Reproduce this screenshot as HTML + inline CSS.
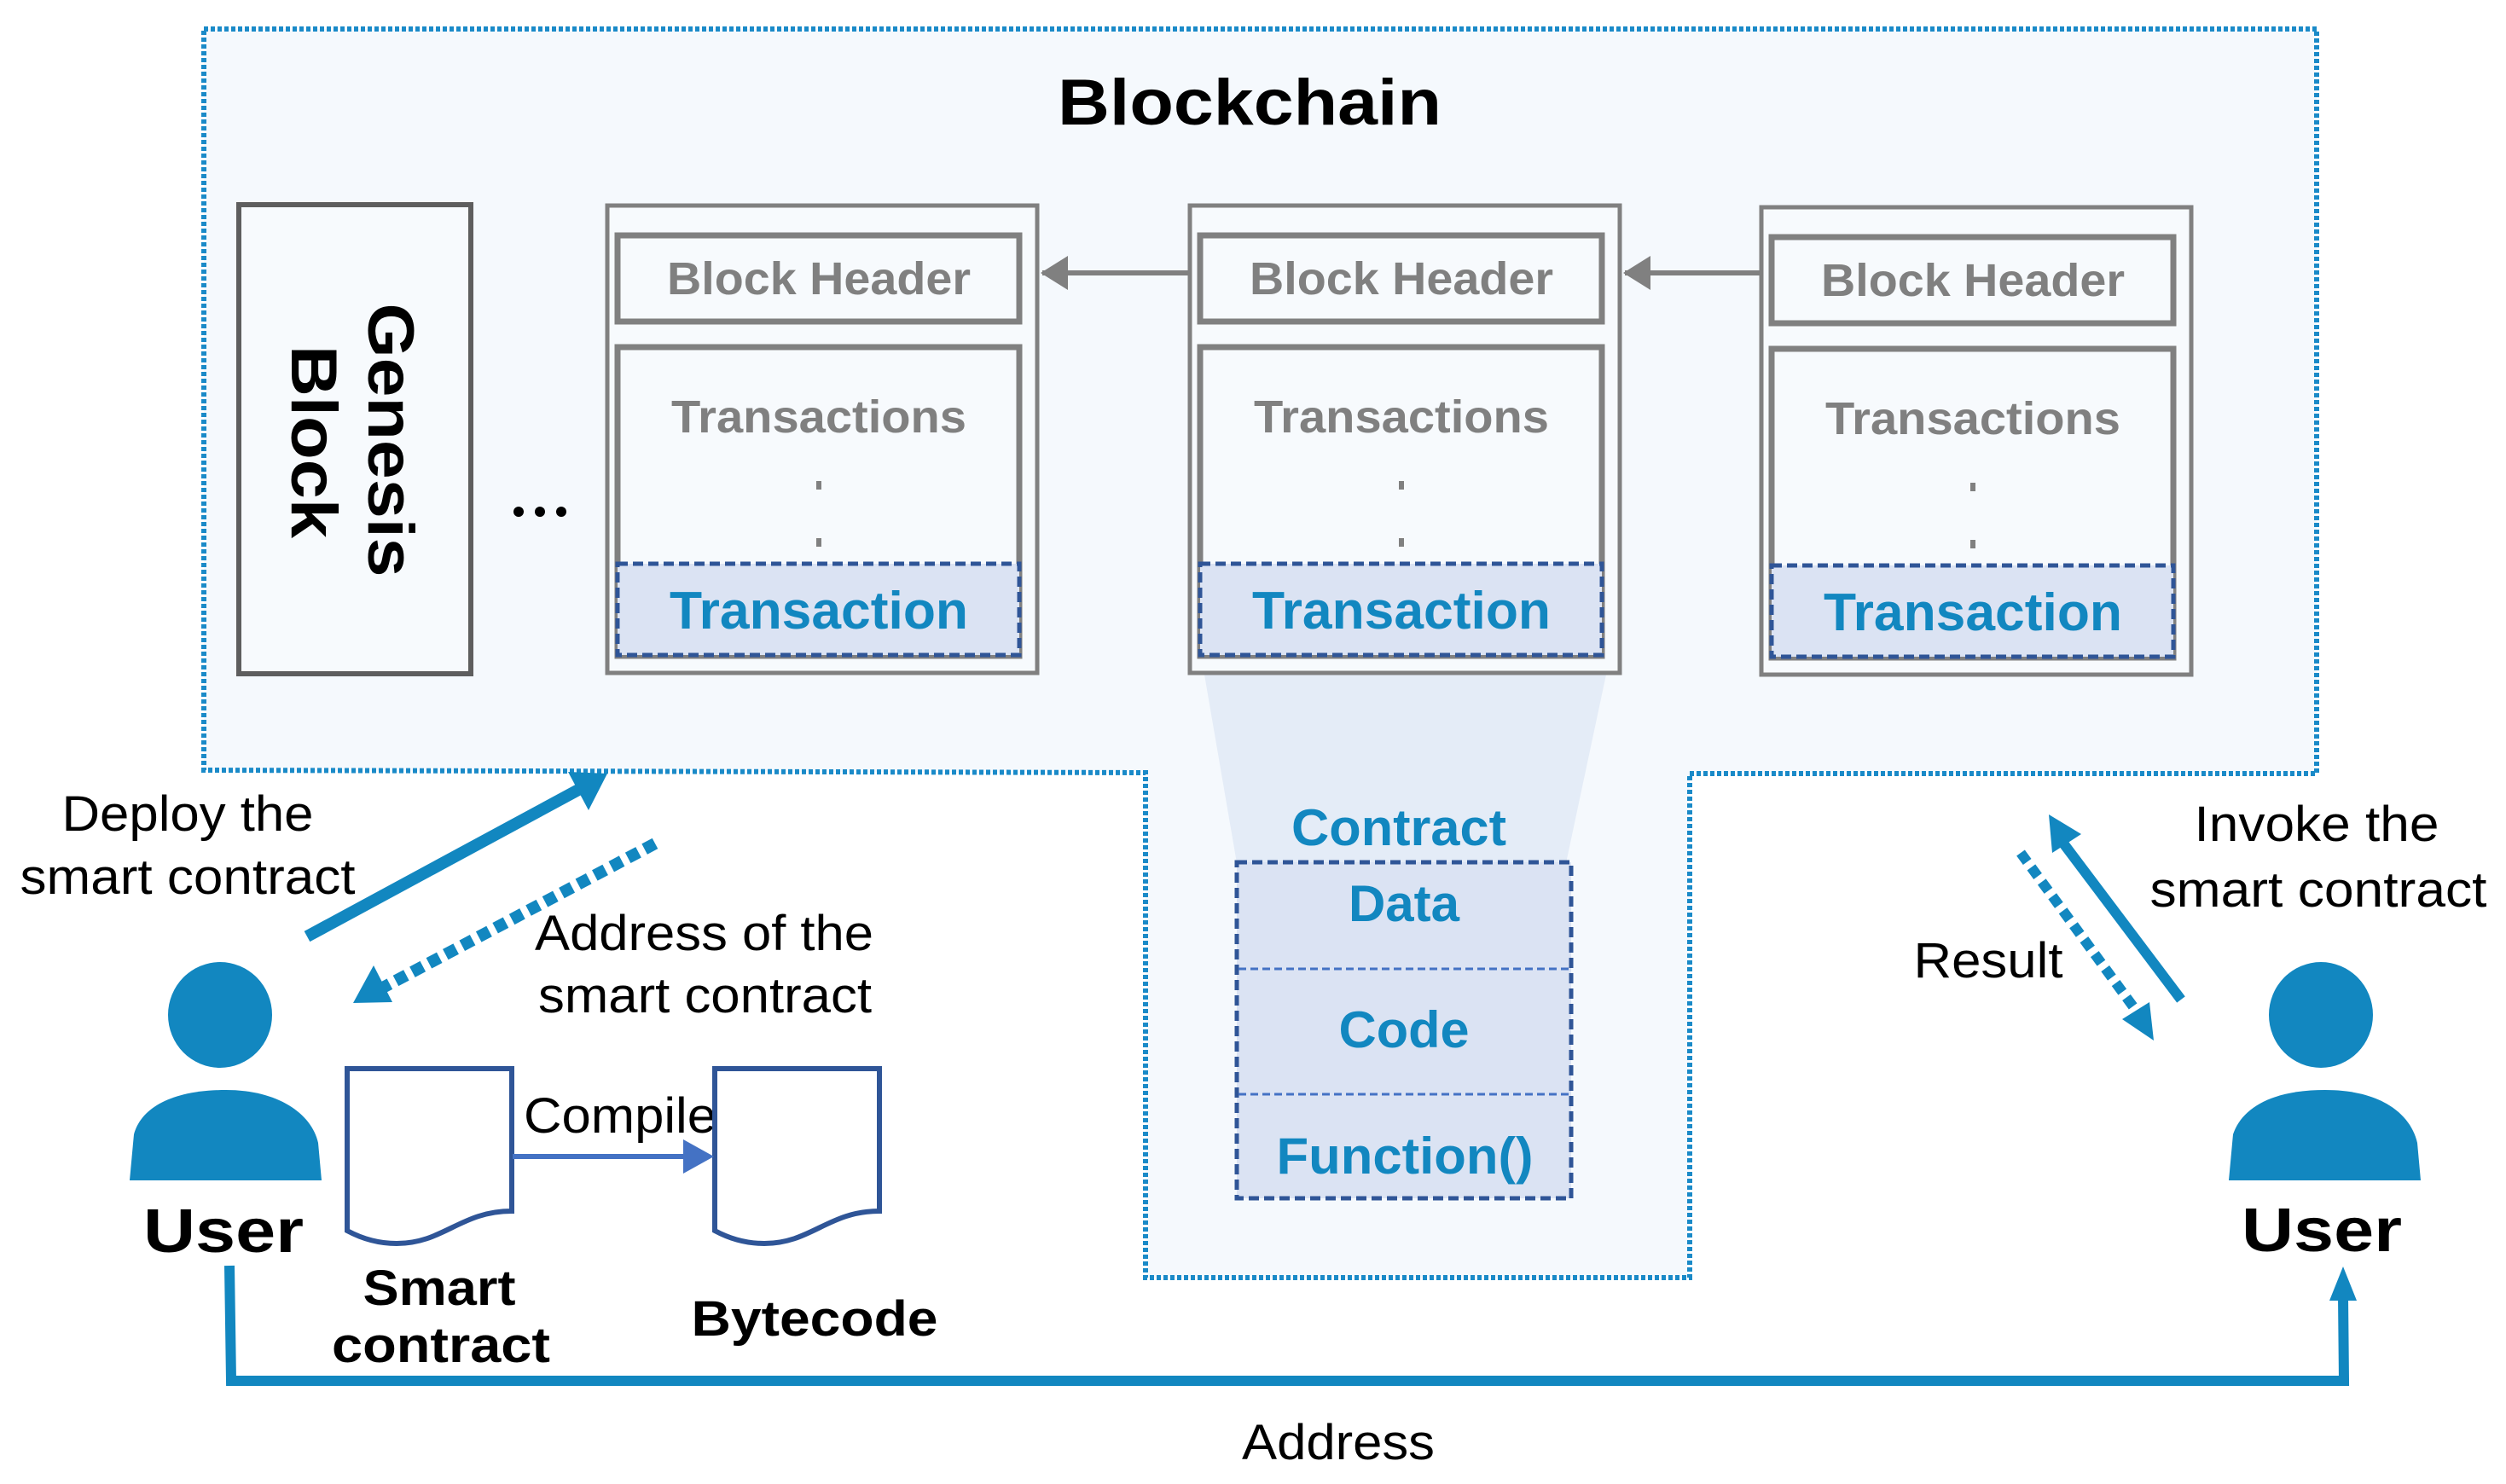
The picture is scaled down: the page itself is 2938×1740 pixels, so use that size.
<!DOCTYPE html>
<html><head><meta charset="utf-8"><style>html,body{margin:0;padding:0;background:#fff}svg{display:block}</style></head>
<body>
<svg width="2938" height="1740" viewBox="0 0 2938 1740" xmlns="http://www.w3.org/2000/svg" font-family="'Liberation Sans', Arial, sans-serif">
<!-- blockchain region -->
<path d="M239,34 L2716,34 L2716,907 L1981,907 L1981,1498 L1343,1498 L1343,906 L239,903 Z" fill="#f5f9fd" stroke="#1a8ac8" stroke-width="6" stroke-dasharray="5,3"/>
<!-- trapezoid -->
<path d="M1412,791 L1883,791 L1836,1012 L1450,1012 Z" fill="#e4ecf7"/>
<text x="1465" y="146" font-size="76" font-weight="bold" text-anchor="middle" textLength="450" lengthAdjust="spacingAndGlyphs">Blockchain</text>
<!-- genesis -->
<rect x="280" y="240" width="272" height="550" fill="#f7fafd" stroke="#5e5e5e" stroke-width="6"/>
<text transform="translate(432,516) rotate(90)" font-size="76" font-weight="bold" text-anchor="middle" textLength="321" lengthAdjust="spacingAndGlyphs">Genesis</text>
<text transform="translate(342,518) rotate(90)" font-size="76" font-weight="bold" text-anchor="middle" textLength="226" lengthAdjust="spacingAndGlyphs">Block</text>
<circle cx="608" cy="600" r="6"/><circle cx="633" cy="600" r="6"/><circle cx="658" cy="600" r="6"/>
<!-- blocks -->
<g id="b1">
<rect x="712" y="241" width="504" height="548" fill="#f7fafd" stroke="#808080" stroke-width="5"/>
<rect x="724" y="276" width="471" height="101" fill="#f7fafd" stroke="#808080" stroke-width="7"/>
<rect x="724" y="407" width="471" height="362" fill="#f7fafd" stroke="#808080" stroke-width="7"/>
<rect x="724" y="661" width="471" height="107" fill="#dbe3f3" stroke="#2f5597" stroke-width="5" stroke-dasharray="12,6"/>
<text x="960" y="345" font-size="54" font-weight="bold" fill="#808080" text-anchor="middle" textLength="356" lengthAdjust="spacingAndGlyphs">Block Header</text>
<text x="960" y="507" font-size="54" font-weight="bold" fill="#808080" text-anchor="middle" textLength="346" lengthAdjust="spacingAndGlyphs">Transactions</text>
<rect x="957" y="564" width="6" height="10" fill="#808080"/><rect x="957" y="631" width="6" height="10" fill="#808080"/>
<text x="960" y="737" font-size="62" font-weight="bold" fill="#1287c0" text-anchor="middle" textLength="350" lengthAdjust="spacingAndGlyphs">Transaction</text>
</g>
<use href="#b1" x="683" y="0"/>
<use href="#b1" x="1353" y="2"/>
<line x1="1393" y1="320" x2="1222" y2="320" stroke="#808080" stroke-width="6"/>
<path d="M1220,320 L1252,300 L1252,340 Z" fill="#808080"/>
<line x1="2066" y1="320" x2="1905" y2="320" stroke="#808080" stroke-width="6"/>
<path d="M1903,320 L1935,300 L1935,340 Z" fill="#808080"/>
<!-- contract -->
<text x="1640" y="991" font-size="60" font-weight="bold" fill="#1287c0" text-anchor="middle" textLength="252" lengthAdjust="spacingAndGlyphs">Contract</text>
<rect x="1450" y="1011" width="392" height="394" fill="#dbe3f3" stroke="#2f5597" stroke-width="5" stroke-dasharray="12,6"/>
<line x1="1452" y1="1136" x2="1840" y2="1136" stroke="#4472c4" stroke-width="3" stroke-dasharray="9,5"/>
<line x1="1452" y1="1283" x2="1840" y2="1283" stroke="#4472c4" stroke-width="3" stroke-dasharray="9,5"/>
<text x="1646" y="1080" font-size="60" font-weight="bold" fill="#1287c0" text-anchor="middle" textLength="130" lengthAdjust="spacingAndGlyphs">Data</text>
<text x="1646" y="1228" font-size="60" font-weight="bold" fill="#1287c0" text-anchor="middle" textLength="153" lengthAdjust="spacingAndGlyphs">Code</text>
<text x="1647" y="1376" font-size="60" font-weight="bold" fill="#1287c0" text-anchor="middle" textLength="301" lengthAdjust="spacingAndGlyphs">Function()</text>
<!-- users -->
<g fill="#1287c0">
<ellipse cx="258" cy="1190" rx="61" ry="62"/>
<path d="M152,1384 L157,1330 C165,1300 200,1278 265,1278 C325,1278 365,1305 373,1340 L377,1384 Z"/>
<ellipse cx="2721" cy="1190" rx="61" ry="62"/>
<path d="M2613,1384 L2618,1330 C2628,1300 2662,1278 2726,1278 C2790,1278 2826,1305 2834,1340 L2838,1384 Z"/>
</g>
<text x="262" y="1468" font-size="72" font-weight="bold" text-anchor="middle" textLength="188" lengthAdjust="spacingAndGlyphs">User</text>
<text x="2722" y="1467" font-size="72" font-weight="bold" text-anchor="middle" textLength="188" lengthAdjust="spacingAndGlyphs">User</text>
<!-- address line -->
<path d="M269,1484 L271,1619 L2748,1619 L2747,1520" fill="none" stroke="#1287c0" stroke-width="12"/>
<path d="M2747,1485 L2731,1525 L2763,1525 Z" fill="#1287c0"/>
<text x="1569" y="1711" font-size="58" text-anchor="middle" textLength="226" lengthAdjust="spacingAndGlyphs">Address</text>
<!-- deploy arrow -->
<line x1="360" y1="1098" x2="680" y2="925" stroke="#1287c0" stroke-width="14"/>
<path d="M712,907 L666,905 L690,950 Z" fill="#1287c0"/>
<line x1="768" y1="989" x2="445" y2="1160" stroke="#1287c0" stroke-width="14" stroke-dasharray="14,8"/>
<path d="M414,1176 L438,1132 L460,1175 Z" fill="#1287c0"/>
<g font-size="58">
<text x="220" y="974" text-anchor="middle" textLength="295" lengthAdjust="spacingAndGlyphs">Deploy the</text>
<text x="220" y="1048" text-anchor="middle" textLength="393" lengthAdjust="spacingAndGlyphs">smart contract</text>
<text x="627" y="1114" textLength="397" lengthAdjust="spacingAndGlyphs">Address of the</text>
<text x="631" y="1187" textLength="391" lengthAdjust="spacingAndGlyphs">smart contract</text>
<text x="614" y="1328" textLength="226" lengthAdjust="spacingAndGlyphs">Compile</text>
<text x="2716" y="986" text-anchor="middle" textLength="287" lengthAdjust="spacingAndGlyphs">Invoke the</text>
<text x="2718" y="1063" text-anchor="middle" textLength="395" lengthAdjust="spacingAndGlyphs">smart contract</text>
<text x="2331" y="1146" text-anchor="middle" textLength="175" lengthAdjust="spacingAndGlyphs">Result</text>
</g>
<!-- docs -->
<g fill="#fff" stroke="#2f5597" stroke-width="6">
<path d="M407,1253 L600,1253 L600,1420 C540,1420 520,1458 465,1458 C440,1458 420,1450 407,1443 Z"/>
<path d="M838,1253 L1031,1253 L1031,1420 C971,1420 951,1458 896,1458 C871,1458 851,1450 838,1443 Z"/>
</g>
<line x1="601" y1="1356" x2="808" y2="1356" stroke="#4472c4" stroke-width="6"/>
<path d="M837,1356 L801,1336 L801,1376 Z" fill="#4472c4"/>
<g font-size="58" font-weight="bold" text-anchor="middle">
<text x="515" y="1530" textLength="179" lengthAdjust="spacingAndGlyphs">Smart</text>
<text x="517" y="1597" textLength="256" lengthAdjust="spacingAndGlyphs">contract</text>
<text x="955" y="1566" textLength="289" lengthAdjust="spacingAndGlyphs">Bytecode</text>
</g>
<!-- invoke/result -->
<line x1="2557" y1="1172" x2="2420" y2="990" stroke="#1287c0" stroke-width="12"/>
<path d="M2402,955 L2406,1000 L2440,978 Z" fill="#1287c0"/>
<line x1="2369" y1="1000" x2="2508" y2="1190" stroke="#1287c0" stroke-width="12" stroke-dasharray="13,8"/>
<path d="M2525,1220 L2488,1195 L2520,1175 Z" fill="#1287c0"/>
</svg>
</body></html>
